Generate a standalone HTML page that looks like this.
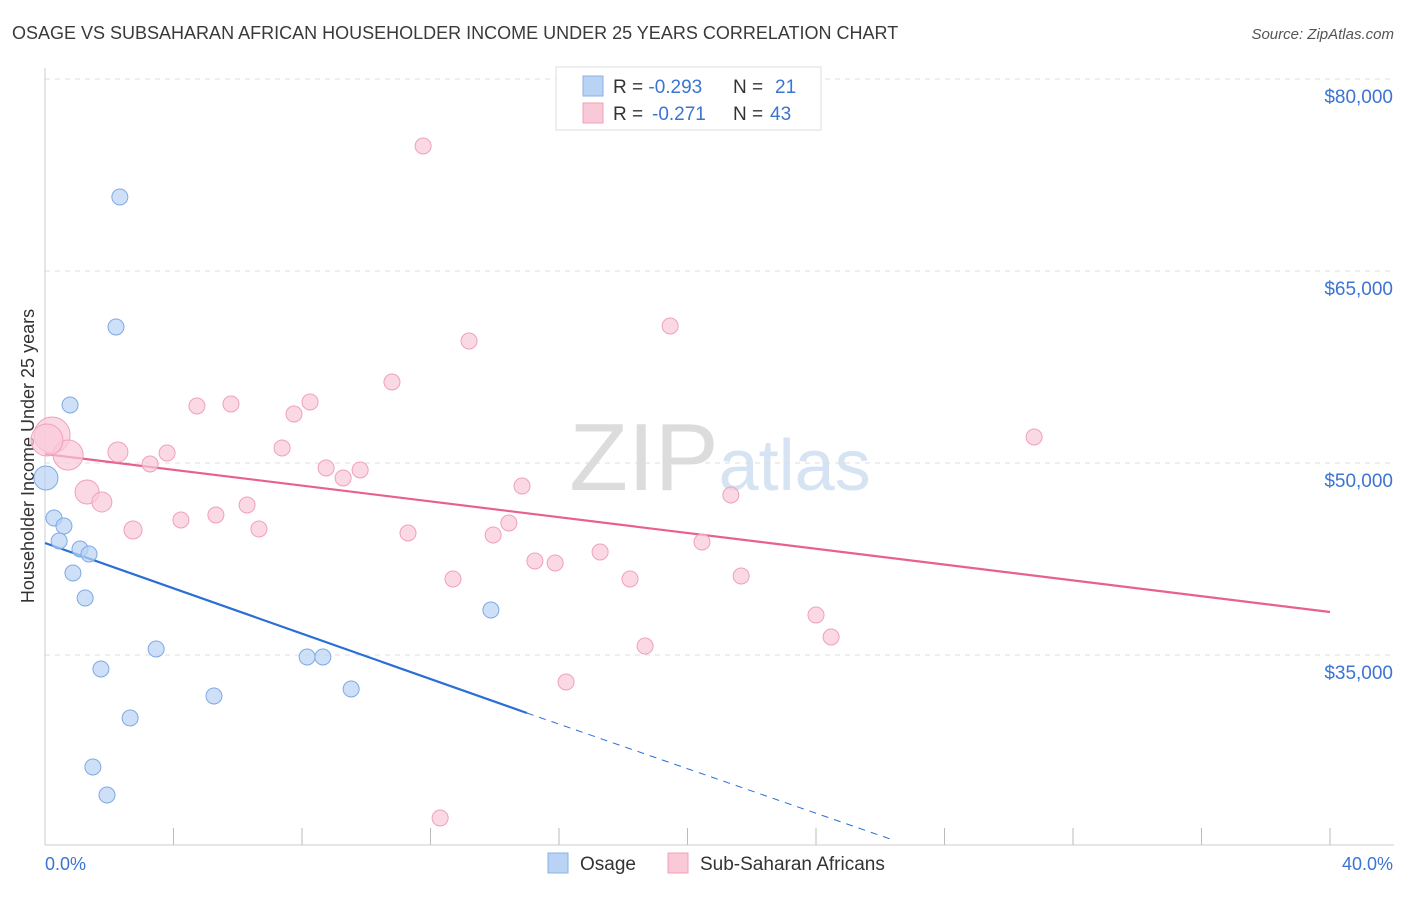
<!DOCTYPE html>
<html><head><meta charset="utf-8"><style>
body{margin:0;background:#fff;font-family:"Liberation Sans",sans-serif;}
svg text{font-family:"Liberation Sans",sans-serif;}
</style></head><body>
<svg id="chart" width="1406" height="892" viewBox="0 0 1406 892" xmlns="http://www.w3.org/2000/svg">
<text x="12" y="39" font-size="18" fill="#3a3a3a">OSAGE VS SUBSAHARAN AFRICAN HOUSEHOLDER INCOME UNDER 25 YEARS CORRELATION CHART</text>
<text x="1394" y="39" font-size="15" fill="#555" font-style="italic" text-anchor="end">Source: ZipAtlas.com</text>
<text x="720" y="490" font-size="96" text-anchor="middle" fill="#e4e4e4" font-family="Liberation Serif"><tspan fill="#dcdcdc">ZIP</tspan><tspan fill="#d6e3f3" font-family="Liberation Sans" font-size="72">atlas</tspan></text>
<g id="grid"></g>
<line x1="45" y1="845" x2="1394" y2="845" stroke="#ccc"/>
<line x1="45" y1="68" x2="45" y2="845" stroke="#ccc"/>
<text transform="translate(34,456) rotate(-90)" font-size="18" fill="#333" text-anchor="middle">Householder Income Under 25 years</text>
<text x="45" y="870" font-size="18" fill="#3b74d1">0.0%</text>
<text x="1393" y="870" font-size="18" fill="#3b74d1" text-anchor="end">40.0%</text>
<g id="lines"></g>
<g id="points"></g>
<g>
<rect x="556" y="67" width="265" height="63" fill="#fff" stroke="#ddd"/>
<rect x="583" y="76" width="20" height="20" fill="#b9d3f5" stroke="#8ab2e8"/>
<rect x="583" y="103" width="20" height="20" fill="#fac9d8" stroke="#f0a0bb"/>
<text x="613" y="93" font-size="19" fill="#333">R = <tspan fill="#3b74d1">-0.293</tspan><tspan x="733">N = </tspan><tspan fill="#3b74d1" x="775">21</tspan></text>
<text x="613" y="120" font-size="19" fill="#333">R = <tspan fill="#3b74d1" x="652">-0.271</tspan><tspan x="733">N = </tspan><tspan fill="#3b74d1" x="770">43</tspan></text>
</g>
<g>
<rect x="548" y="853" width="20" height="20" fill="#b9d3f5" stroke="#8ab2e8"/>
<text x="580" y="870" font-size="19" fill="#333">Osage</text>
<rect x="668" y="853" width="20" height="20" fill="#fac9d8" stroke="#f0a0bb"/>
<text x="700" y="870" font-size="19" fill="#333">Sub-Saharan Africans</text>
</g>
</svg>
<script>
const yTicks=[80000,65000,50000,35000];
const yTickLabels=["$80,000","$65,000","$50,000","$35,000"];
const xTicks=[0,4,8,12,16,20,24,28,32,36,40];
const osageX=[0.03,0.28,0.59,0.44,0.78,1.09,1.37,0.87,1.25,1.74,1.49,1.93,2.21,2.33,2.65,3.46,5.26,8.16,8.65,9.53,13.88];
const osageY=[48828,45703,45078,43906,54531,43281,42891,41406,39453,33906,26250,24063,60625,70781,30078,35469,31797,34844,34844,32344,38516];
const osageR=[12,8,8,8,8,8,8,8,8,8,8,8,8,8,8,8,8,8,8,8,8];
const subX=[0.22,0.72,1.31,1.77,2.27,2.74,3.27,3.80,4.23,4.73,5.32,5.79,6.29,6.66,7.38,7.75,8.25,8.75,9.28,9.81,10.80,11.30,11.77,12.30,12.70,13.20,13.95,14.44,14.85,15.25,15.88,16.22,17.28,18.21,18.68,19.46,20.45,21.35,21.67,24.00,24.47,30.79,0.06];
const subY=[52188,50625,47734,46953,50859,44766,49922,50781,45547,54453,45938,54609,46719,44844,51172,53828,54766,49609,48828,49453,56328,44531,74766,22266,40938,59531,44375,45313,48203,42344,42188,32891,43047,40938,35703,60703,43828,47500,41172,38125,36406,52031,51797];
const subR=[18,15,12,10,10,9,8,8,8,8,8,8,8,8,8,8,8,8,8,8,8,8,8,8,8,8,8,8,8,8,8,8,8,8,8,8,8,8,8,8,8,8,16];
const osageTrend=[[0,43750],[15.0,30469]];
const osageTrendDash=[[15.0,30469],[26.4,20547]];
const subTrend=[[0,50703],[40,38359]];
const xs=p=>45+p*32.125;
const ys=v=>79+(80000-v)*0.0128;
const NS="http://www.w3.org/2000/svg";
function mk(t,a,parent){const e=document.createElementNS(NS,t);for(const k in a)e.setAttribute(k,a[k]);document.getElementById(parent).appendChild(e);return e;}
yTicks.forEach((v,i)=>{
 const l=mk('line',{x1:45,x2:1394,y1:ys(v),y2:ys(v),stroke:'#ddd','stroke-dasharray':'5,5'},'grid');
 
 
 const t=mk('text',{x:1393,y:ys(v)+24,'font-size':19,fill:'#3b74d1','text-anchor':'end'},'grid');
 t.textContent=yTickLabels[i];
 
 
});
xTicks.forEach(p=>{
 const l=mk('line',{x1:xs(p),x2:xs(p),y1:828,y2:845,stroke:'#bbb'},'grid');
 
 
});
function seg(pts,col,dash,name){
 const a={x1:xs(pts[0][0]),y1:ys(pts[0][1]),x2:xs(pts[1][0]),y2:ys(pts[1][1]),stroke:col,'stroke-width':dash?1:2.2};
 if(dash)a['stroke-dasharray']='7,6';
 const l=mk('line',a,'lines');
 
 
}
seg(subTrend,'#e8608e',false,'subsaharan-trend-line');
seg(osageTrend,'#2a6fd6',false,'osage-trend-line');
seg(osageTrendDash,'#2a6fd6',true,'osage-trend-extension');
subX.forEach((p,i)=>{
 const c=mk('circle',{cx:xs(p),cy:ys(subY[i]),r:subR[i],fill:'#fac9d8','fill-opacity':0.7,stroke:'#f0a0bb'},'points');
 
 
});
osageX.forEach((p,i)=>{
 const c=mk('circle',{cx:xs(p),cy:ys(osageY[i]),r:osageR[i],fill:'#b9d3f5','fill-opacity':0.7,stroke:'#7fa9e4'},'points');
 
 
});
</script>
</body></html>
